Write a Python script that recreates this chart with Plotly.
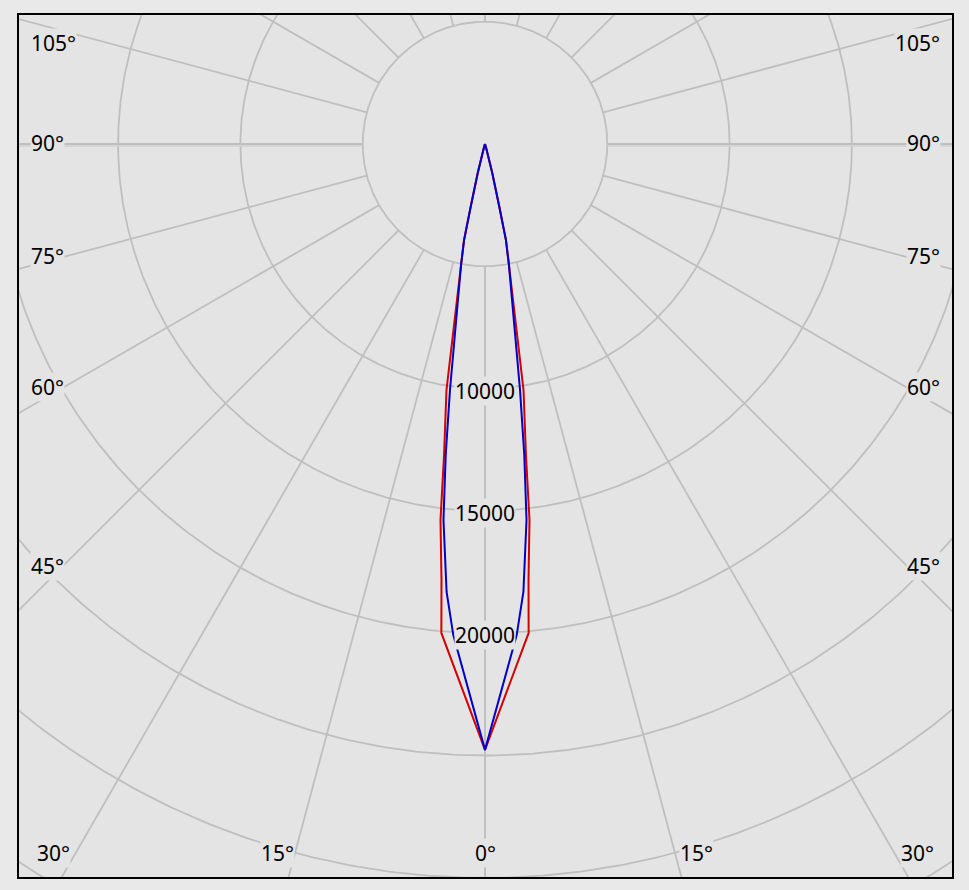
import numpy as np
import plotly.graph_objects as go

# ---------------- data ----------------
ring_values = [5000, 10000, 15000, 20000, 25000, 30000, 35000, 40000]
ring_labels = [10000, 15000, 20000]
spoke_angles = [0, 15, 30, 45, 60, 75, 90, 105, 120, 135, 150, 165, 180]
side_labels = [105, 90, 75, 60, 45]
bottom_labels = [30, 15, 0]

# C0-C180 plane (red): gamma angle [deg] and luminous intensity [cd]
red_gamma = [0, 5.1, 5.7, 6.75, 7.5, 8.9, 11.2, 12.3, 12.85, 14.1, 16, 20, 30, 45, 90, 135, 180]
red_cd = [24770, 20070, 17910, 15480, 12820, 10180, 5040, 4020, 2630, 1220, 200, 50, 10, 0, 0, 0, 0]

# C90-C270 plane (blue)
blue_gamma = [0, 3.7, 4.9, 6.3, 7.2, 8.1, 11.2, 12.3, 12.85, 14.1, 16, 20, 30, 45, 90, 135, 180]
blue_cd = [24770, 20110, 18380, 15470, 12820, 10160, 5040, 4020, 2630, 1220, 200, 50, 10, 0, 0, 0, 0]

# ---------------- layout constants ----------------
W, H = 969, 890
ML, MR, MT, MB = 19, 17, 15, 13
CX, CY = 485, 144          # pixel position of the pole
S = 5000 / 122.3           # cd per pixel
PLOT_BG = "#e4e4e4"
PAPER_BG = "#e9e9e9"
GRID = "#bfbfbf"
FONT = "Noto Sans"
FSIZE = 21


def px2data(px, py):
    return (px - CX) * S, -(py - CY) * S


def polar_xy(gamma, cd, sign):
    g = np.radians(np.asarray(gamma, float))
    r = np.asarray(cd, float)
    return sign * r * np.sin(g), -r * np.cos(g)


def curve(gamma, cd):
    xl, yl = polar_xy(gamma, cd, -1)
    xr, yr = polar_xy(gamma, cd, 1)
    x = np.concatenate([xl[::-1], xr[1:]])
    y = np.concatenate([yl[::-1], yr[1:]])
    return x, y


fig = go.Figure()

# rings
t = np.linspace(0, 2 * np.pi, 721)
rx, ry = [], []
for rv in ring_values:
    rx += list(rv * np.cos(t)) + [None]
    ry += list(rv * np.sin(t)) + [None]
fig.add_trace(go.Scatter(x=rx, y=ry, mode="lines", line=dict(color=GRID, width=1.8),
                         hoverinfo="skip", showlegend=False))

# spokes (start at the first ring)
sx, sy = [], []
for a in spoke_angles:
    for sign in (-1, 1):
        x0, y0 = polar_xy([a], [ring_values[0]], sign)
        x1, y1 = polar_xy([a], [60000], sign)
        sx += [x0[0], x1[0], None]
        sy += [y0[0], y1[0], None]
fig.add_trace(go.Scatter(x=sx, y=sy, mode="lines", line=dict(color=GRID, width=1.8),
                         hoverinfo="skip", showlegend=False))
# 90 deg line looks heavier
hx, hy = [], []
for sign in (-1, 1):
    x0, y0 = polar_xy([90], [ring_values[0]], sign)
    x1, y1 = polar_xy([90], [60000], sign)
    hx += [x0[0], x1[0], None]
    hy += [y0[0] - 2 * S, y1[0] - 2 * S, None]
fig.add_trace(go.Scatter(x=hx, y=hy, mode="lines", line=dict(color="#d0d0d0", width=1.4),
                         hoverinfo="skip", showlegend=False))

# intensity curves
x, y = curve(red_gamma, red_cd)
fig.add_trace(go.Scatter(x=x, y=y, mode="lines", line=dict(color="#d40000", width=2),
                         name="C0-C180", hoverinfo="skip", showlegend=False))
x, y = curve(blue_gamma, blue_cd)
fig.add_trace(go.Scatter(x=x, y=y, mode="lines", line=dict(color="#0000c8", width=2),
                         name="C90-C270", hoverinfo="skip", showlegend=False))

annotations = []
font = dict(family=FONT, size=FSIZE, color="#000")
# ring value labels on the 0 deg axis
for rv in ring_labels:
    annotations.append(dict(x=0, y=-rv - 2 * S, text=str(rv), showarrow=False,
                            xanchor="center", yanchor="middle", bgcolor=PLOT_BG,
                            borderpad=0, font=font))

# side angle labels
side_py = {105: 43, 90: 143, 75: 256, 60: 387, 45: 566}
for a in side_labels:
    xl, yl = px2data(30, side_py[a])
    xr, yr = px2data(941, side_py[a])
    annotations.append(dict(x=xl, y=yl, text=f"{a}°", showarrow=False, xanchor="left",
                            yanchor="middle", bgcolor=PLOT_BG, borderpad=0, font=font))
    annotations.append(dict(x=xr, y=yr, text=f"{a}°", showarrow=False, xanchor="right",
                            yanchor="middle", bgcolor=PLOT_BG, borderpad=0, font=font))

bottom_px = {30: (53, 917), 15: (277, 696), 0: (485, 485)}
for a in bottom_labels:
    for px in sorted(set(bottom_px[a])):
        xd, yd = px2data(px, 853)
        annotations.append(dict(x=xd, y=yd, text=f"{a}°", showarrow=False, xanchor="center",
                                yanchor="middle", bgcolor=PLOT_BG, borderpad=0, font=font))

x0d, _ = px2data(ML, 0)
x1d, _ = px2data(W - MR, 0)
_, y1d = px2data(0, MT)
_, y0d = px2data(0, H - MB)

fig.update_layout(
    width=W, height=H,
    margin=dict(l=ML, r=MR, t=MT, b=MB, pad=0),
    paper_bgcolor=PAPER_BG, plot_bgcolor=PLOT_BG,
    showlegend=False,
    annotations=annotations,
    xaxis=dict(range=[x0d, x1d], showgrid=False, zeroline=False, showticklabels=False,
               ticks="", showline=True, linecolor="#000", linewidth=1.5, mirror=True,
               fixedrange=True),
    yaxis=dict(range=[y0d, y1d], showgrid=False, zeroline=False, showticklabels=False,
               ticks="", showline=True, linecolor="#000", linewidth=1.5, mirror=True,
               fixedrange=True),
)

fig.write_html(
    "out.html",
    config={"displayModeBar": False},
    post_script="document.body.style.margin='0';document.body.style.background='%s';" % PAPER_BG,
)
